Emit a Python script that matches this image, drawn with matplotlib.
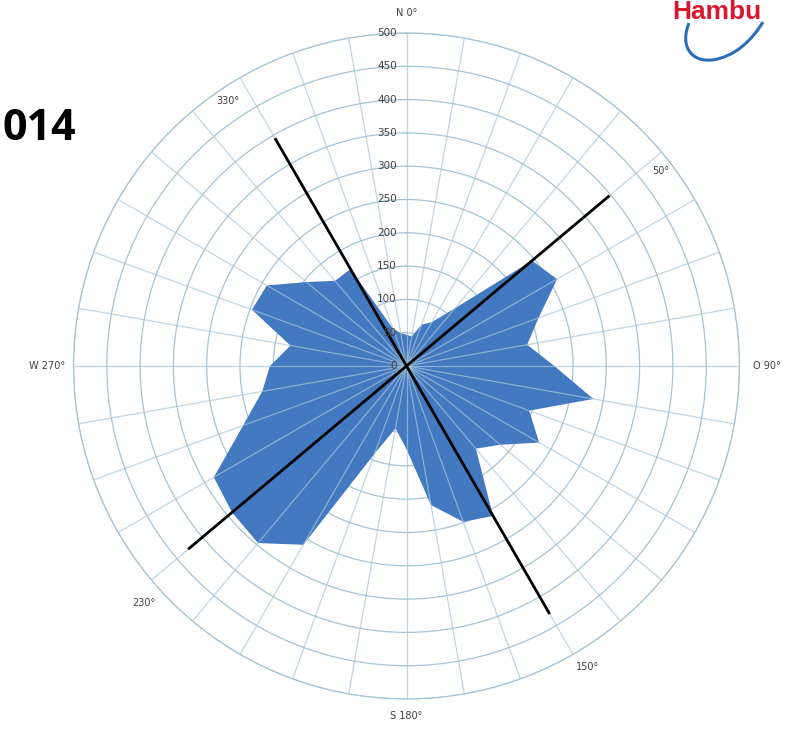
import numpy as np
import matplotlib
matplotlib.use("Agg")
import matplotlib.pyplot as plt
from matplotlib.path import Path
from matplotlib.patches import PathPatch
import matplotlib.transforms as mtransforms


# -----------------------------
# Data
# -----------------------------

directions = list(range(0, 360, 10))   # degrees, 36 sectors
counts = [47, 45, 66, 76, 113, 246, 261, 211, 184, 222,
          285, 196, 230, 184, 162, 260, 249, 212, 125, 95,
          140, 310, 347, 342, 334, 261, 220, 205, 177, 247,
          242, 196, 167, 168, 60, 50]

r_ticks = [0, 50, 100, 150, 200, 250, 300, 350, 400, 450, 500]

dir_labels = ["N 0°", "50°", "O 90°", "150°", "S 180°", "230°", "W 270°", "330°"]
dir_label_angles = [0, 52.5, 90, 149, 180, 228, 270, 326]
dir_label_radii = [530, 482, 541, 527, 526, 531, 540, 480]

# main axes drawn as black lines: (angle, length) pairs through the centre
axis_a = [(330, 395), (150, 430)]
axis_b = [(50, 398), (230, 428)]

title_text = "014"
logo_text = "Hambu"


# -----------------------------
# Figure
# -----------------------------

W, H = 796, 730
fig = plt.figure(figsize=(W / 100, H / 100), dpi=100)
fig.patch.set_facecolor("white")

cx, cy, R = 406.5, 366, 333
ax = fig.add_axes([(cx - R) / W, 1 - (cy + R) / H, 2 * R / W, 2 * R / H],
                  projection="polar")
ax.set_theta_zero_location("N")
ax.set_theta_direction(-1)
ax.set_ylim(0, 500)

grid_col = "#a6c4d6"
theta = np.radians(directions)

ax.set_xticks(theta)
ax.set_xticklabels([])
ax.set_yticks(r_ticks[1:])
ax.set_yticklabels([])
ax.xaxis.grid(False)
ax.yaxis.grid(True, color=grid_col, lw=0.9)
ax.spines["polar"].set_color(grid_col)
ax.spines["polar"].set_linewidth(0.9)
ax.tick_params(length=0)

# filled radar polygon
th_closed = np.append(theta, theta[0])
val_closed = np.append(counts, counts[0])
ax.fill(th_closed, val_closed, color="#4279c1", zorder=2, lw=0)

# spokes drawn over the fill
ax.vlines(theta, 0, 500, colors=grid_col, lw=0.9, alpha=0.7, zorder=3)

# black axis lines through the centre
for (a1, l1), (a2, l2) in (axis_a, axis_b):
    ax.plot(np.radians([a1, a1, a2, a2]), [l1, 0, 0, l2],
            color="black", lw=2.0, zorder=4, solid_capstyle="butt")

# radial tick labels left of the north spoke
off = mtransforms.offset_copy(ax.transData, fig=fig, x=-7, y=0, units="points")
for r in r_ticks:
    ax.text(0, r, str(r), transform=off, ha="right", va="center",
            fontsize=7.5, color="#404040", zorder=5)

# direction labels
for lab, ang, rad in zip(dir_labels, dir_label_angles, dir_label_radii):
    ax.text(np.radians(ang), rad, lab, ha="center", va="center",
            fontsize=7, color="#404040", clip_on=False)

# title fragment and logo
fig.text(2 / W, 1 - 140 / H, title_text, ha="left", va="baseline",
         fontsize=31, weight="bold", color="black", family="Open Sans")
fig.text(672 / W, 1 - 19 / H, logo_text, ha="left", va="baseline",
         fontsize=19, weight="bold", color="#d7192f", family="Liberation Sans")

pts = [(689, 23), (680, 45), (690, 62), (712, 60),
       (735, 57), (752, 40), (763, 22)]
pts = [(x / W, 1 - y / H) for x, y in pts]
codes = [Path.MOVETO, Path.CURVE4, Path.CURVE4, Path.CURVE4,
         Path.CURVE4, Path.CURVE4, Path.CURVE4]
fig.add_artist(PathPatch(Path(pts, codes), transform=fig.transFigure,
                         facecolor="none", edgecolor="#2b6cb8", lw=2.2))

fig.savefig("out.png", dpi=100)
